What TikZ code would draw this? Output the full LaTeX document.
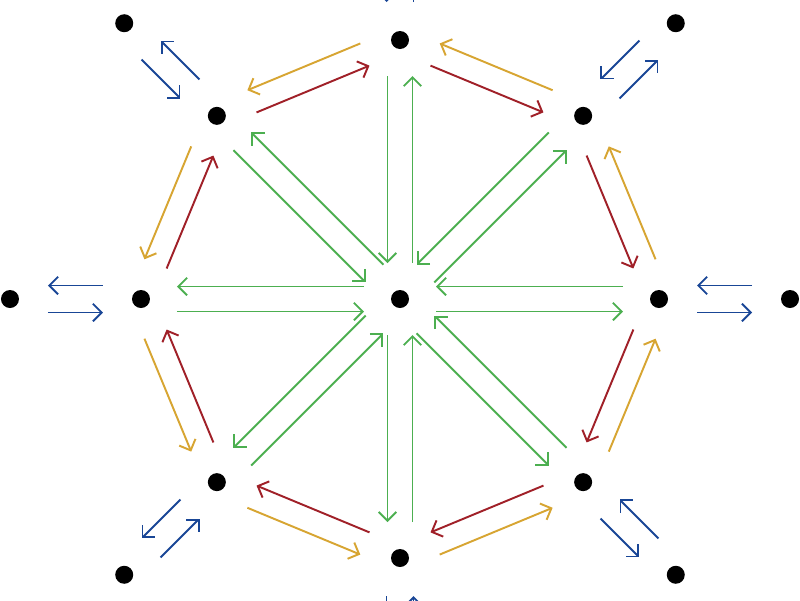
\documentclass[tikz,border=0pt]{standalone}
\usetikzlibrary{calc,arrows.meta}
\definecolor{cg}{RGB}{76,175,80}
\definecolor{cr}{RGB}{160,32,40}
\definecolor{cy}{RGB}{215,165,50}
\definecolor{cb}{RGB}{25,70,150}
\tikzset{dot/.style={circle,fill=black,inner sep=0pt,minimum size=0.36cm},
  arr/.style={line width=1.1pt,-{Straight Barb[length=5pt,width=10pt]},shorten >=#1,shorten <=#1}}
\newcommand{\pairarrow}[5]{%
  \draw[arr=#3,#4] ($(#1)!#5!-90:(#2)$) -- ($(#2)!#5!90:(#1)$);}
\begin{document}
\begin{tikzpicture}
\useasboundingbox (-8,-6.02) rectangle (8,5.98);
\node[dot] (c) at (0,0) {};
\foreach \k in {0,...,7}{
  \node[dot] (i\k) at (\k*45:5.18) {};
  \node[dot] (o\k) at (\k*45:7.8) {};
}
\foreach \k in {0,...,7}{
  \pgfmathtruncatemacro{\n}{mod(\k+1,8)}
  \pairarrow{c}{i\k}{0.72cm}{cg}{0.25cm}
  \pairarrow{i\k}{c}{0.72cm}{cg}{0.25cm}
  \pairarrow{i\k}{i\n}{0.76cm}{cy}{0.24cm}
  \pairarrow{i\n}{i\k}{0.76cm}{cr}{0.24cm}
  \pairarrow{i\k}{o\k}{0.76cm}{cb}{0.27cm}
  \pairarrow{o\k}{i\k}{0.76cm}{cb}{0.27cm}
}
\end{tikzpicture}
\end{document}
